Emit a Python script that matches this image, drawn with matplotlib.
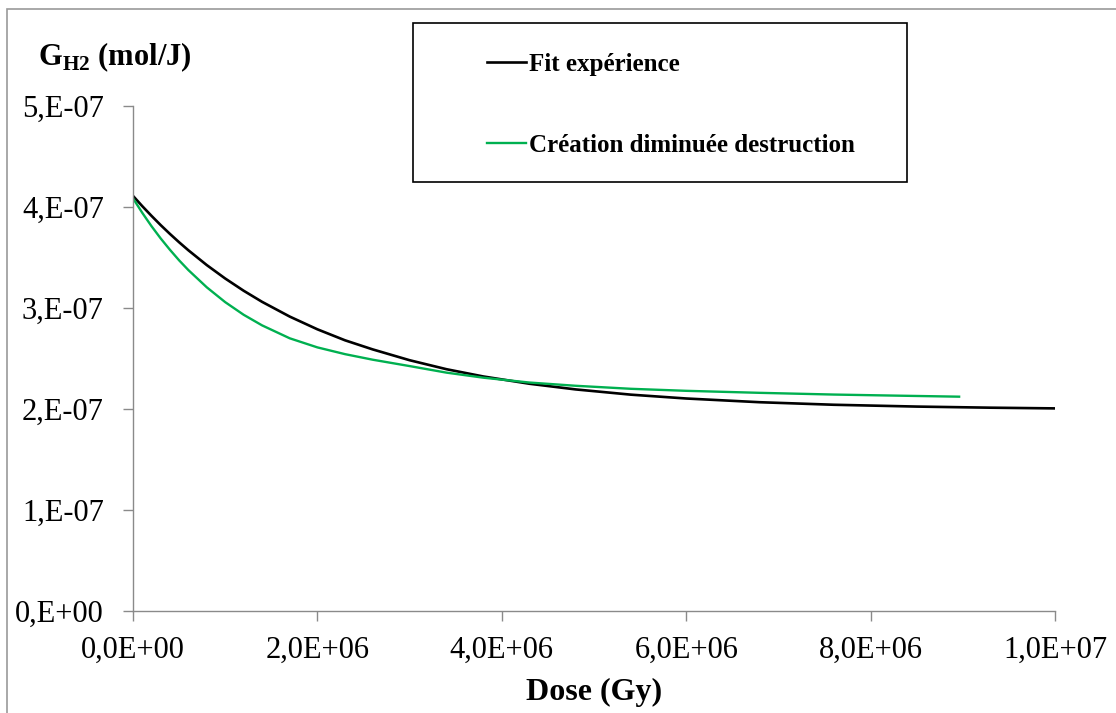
import numpy as np
import matplotlib
matplotlib.use('Agg')
import matplotlib.pyplot as plt
from matplotlib.patches import Rectangle

plt.rcParams['font.family'] = 'Liberation Serif'
plt.rcParams['mathtext.fontset'] = 'custom'
plt.rcParams['mathtext.rm'] = 'Liberation Serif'
plt.rcParams['mathtext.bf'] = 'Liberation Serif:bold'

# values (dose in 1e6 Gy, G in 1e-7 mol/J)
dose_fit = np.array([0, 0.1, 0.2, 0.3, 0.4, 0.5, 0.6, 0.8, 1.0, 1.2, 1.4, 1.7, 2.0,
                     2.3, 2.6, 3.0, 3.4, 3.8, 4.3, 4.8, 5.4, 6.0, 6.8, 7.6, 8.5,
                     9.3, 10.0]) * 1e6
g_fit = np.array([4.11, 4.009, 3.913, 3.821, 3.734, 3.651, 3.572, 3.425, 3.292,
                  3.171, 3.061, 2.915, 2.789, 2.680, 2.590, 2.483, 2.394, 2.322,
                  2.250, 2.194, 2.142, 2.104, 2.067, 2.042, 2.024, 2.013,
                  2.006]) * 1e-7

dose_model = np.array([0, 0.1, 0.2, 0.3, 0.4, 0.5, 0.6, 0.8, 1.0, 1.2, 1.4, 1.7,
                       2.0, 2.3, 2.6, 3.0, 3.4, 3.8, 4.3, 4.8, 5.4, 6.0, 6.8, 7.6,
                       8.3, 8.96]) * 1e6
g_model = np.array([4.086, 3.943, 3.811, 3.689, 3.577, 3.472, 3.376, 3.205, 3.058,
                    2.933, 2.828, 2.70, 2.61, 2.543, 2.488, 2.425, 2.36, 2.31, 2.262,
                    2.23, 2.20, 2.18, 2.16, 2.143, 2.132, 2.122]) * 1e-7

labels = ['Fit expérience', 'Création diminuée destruction']
xticks = [0, 2e6, 4e6, 6e6, 8e6, 1e7]
xtick_labels = ['0,0E+00', '2,0E+06', '4,0E+06', '6,0E+06', '8,0E+06', '1,0E+07']
yticks = [0, 1e-7, 2e-7, 3e-7, 4e-7, 5e-7]
ytick_labels = ['0,E+00', '1,E-07', '2,E-07', '3,E-07', '4,E-07', '5,E-07']

W, H = 1116, 713
fig = plt.figure(figsize=(W / 100, H / 100), dpi=100)
ax = fig.add_axes([133 / W, (H - 611) / H, (1055 - 133) / W, (611 - 106) / H])

ax.plot(dose_fit, g_fit, color='black', lw=1.9, label=labels[0],
        solid_joinstyle='round')
ax.plot(dose_model, g_model, color='#00B050', lw=1.7, label=labels[1],
        solid_joinstyle='round')

ax.set_xlim(0, 1e7)
ax.set_ylim(0, 5e-7)
ax.set_xticks(xticks)
ax.set_xticklabels(xtick_labels)
ax.set_yticks(yticks)
ax.set_yticklabels(ytick_labels)

grey = '#8a8a8a'
for side in ['top', 'right']:
    ax.spines[side].set_visible(False)
for side in ['left', 'bottom']:
    ax.spines[side].set_color(grey)
    ax.spines[side].set_linewidth(1.0)
ax.tick_params(axis='both', colors=grey, labelcolor='black', length=7, width=1.0,
               labelsize=22)
ax.tick_params(axis='x', pad=11)
ax.tick_params(axis='y', pad=14)

ax.set_xlabel('Dose (Gy)', fontsize=23, fontweight='bold', labelpad=9)
fig.text(38 / W, 1 - 65 / H, r'$\mathbf{G}_{\mathbf{H2}}$ (mol/J)', fontsize=22,
         fontweight='bold', ha='left', va='baseline')

# legend box
fig.patches.append(Rectangle((413 / W, 1 - 182 / H), (907 - 413) / W, (182 - 23) / H,
                             transform=fig.transFigure, fill=False, ec='black', lw=1.2))
leg = ax.legend(loc='upper left', bbox_to_anchor=(487 / W, 1 - 53 / H),
                bbox_transform=fig.transFigure, frameon=False, borderpad=0,
                borderaxespad=0, handlelength=1.56, handletextpad=0.12,
                labelspacing=2.3, prop={'size': 18, 'weight': 'bold'})

# outer frame
fig.patches.append(Rectangle((7 / W, -0.1), 1.2, 1.1 - 9 / H, transform=fig.transFigure,
                             fill=False, ec='#9a9a9a', lw=1.2))

fig.savefig('out.png', dpi=100)
